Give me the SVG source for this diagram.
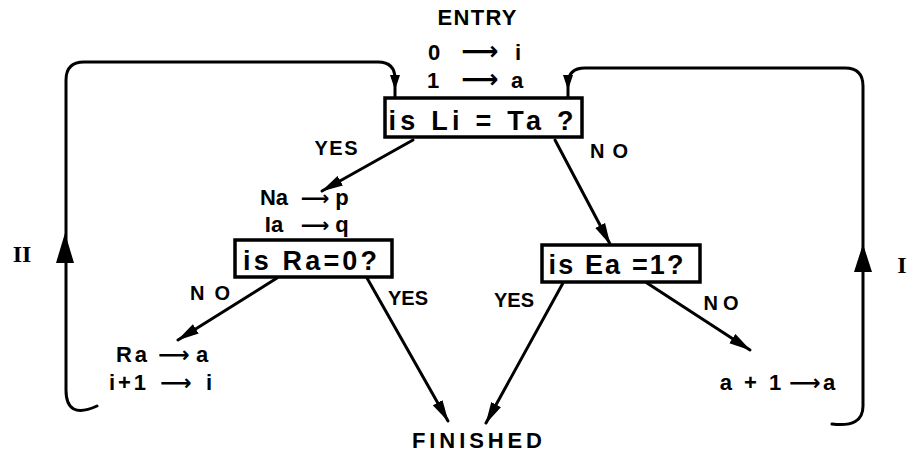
<svg xmlns="http://www.w3.org/2000/svg" width="909" height="456" viewBox="0 0 909 456">
<style>
  .t { font-family: "Liberation Sans", Arial, sans-serif; font-weight: bold; fill: #000; text-anchor: middle; }
  .lbl { font-size: 20px; }
  .ex { font-size: 22px; }
  .bx { font-size: 27px; }
  .ar { font-family: "DejaVu Sans", sans-serif; font-weight: bold; font-size: 26px; }
  .ar2 { font-family: "DejaVu Sans", sans-serif; font-weight: bold; font-size: 20px; }
  .ar3 { font-family: "DejaVu Sans", sans-serif; font-weight: bold; font-size: 22px; }
  .rn { font-family: "Liberation Serif", "Times New Roman", serif; font-weight: bold; font-size: 24px; fill: #000; text-anchor: middle; }
  .box { fill: #fff; stroke: #000; stroke-width: 3.5; }
  .ln { fill: none; stroke: #000; stroke-width: 3; stroke-linecap: round; stroke-linejoin: round; }
  .hd { fill: #000; stroke: none; }
</style>
<defs>
  <marker id="ah" markerUnits="userSpaceOnUse" markerWidth="22" markerHeight="12" refX="21" refY="6" orient="auto">
    <path d="M0,0.5 L22,6 L0,11.5 Z" fill="#000"/>
  </marker>
</defs>
<rect width="909" height="456" fill="#fff"/>

<g id="connectors">
  <!-- left loop II -->
  <path class="ln" d="M 97 406 Q 66 420 66 390 L 66 80 Q 66 62 84 62 L 378 62 Q 395 62 395 79 L 395 98"/>
  <path class="hd" d="M 65 233 L 74 263 L 56 263 Z"/>
  <path class="hd" d="M 395 90 L 400 75 L 390 75 Z"/>
  <!-- right loop I -->
  <path class="ln" d="M 568 98 L 568 84 Q 568 68 585 68 L 845 68 Q 863 68 863 86 L 863 406 Q 863 428 832 424"/>
  <path class="hd" d="M 863 244 L 872 272 L 854 272 Z"/>
  <path class="hd" d="M 568 90 L 573 75 L 563 75 Z"/>
  <!-- box1 YES -->
  <line class="ln" x1="413" y1="140" x2="322" y2="191" marker-end="url(#ah)"/>
  <!-- box1 NO -->
  <line class="ln" x1="555" y1="140" x2="610" y2="244" marker-end="url(#ah)"/>
  <!-- box2 NO -->
  <line class="ln" x1="277" y1="278" x2="178" y2="340" marker-end="url(#ah)"/>
  <!-- box2 YES -->
  <line class="ln" x1="367" y1="278" x2="448" y2="421" marker-end="url(#ah)"/>
  <!-- box3 YES -->
  <line class="ln" x1="563" y1="283" x2="486" y2="423" marker-end="url(#ah)"/>
  <!-- box3 NO -->
  <line class="ln" x1="647" y1="283" x2="750" y2="350" marker-end="url(#ah)"/>
</g>

<g id="entry">
  <text class="t ex" x="477" y="25" textLength="79" lengthAdjust="spacing">ENTRY</text>
  <text class="t ex" y="60"><tspan x="434">0</tspan><tspan class="ar" x="480">⟶</tspan><tspan x="518">i</tspan></text>
  <text class="t ex" y="88"><tspan x="433">1</tspan><tspan class="ar" x="480">⟶</tspan><tspan x="517">a</tspan></text>
</g>

<g id="box1">
  <rect class="box" x="385" y="98" width="197" height="39"/>
  <text class="t bx" x="481" y="130" textLength="185" lengthAdjust="spacing">is Li = Ta ?</text>
  <text class="t lbl" x="336" y="155" textLength="43" lengthAdjust="spacing">YES</text>
  <text class="t lbl" x="609" y="158" textLength="38" lengthAdjust="spacing">NO</text>
</g>

<g id="assign1">
  <text class="t ex" y="205"><tspan x="274">Na</tspan><tspan class="ar2" x="315">⟶</tspan><tspan x="342">p</tspan></text>
  <text class="t ex" y="232"><tspan x="274">Ia</tspan><tspan class="ar2" x="315">⟶</tspan><tspan x="342">q</tspan></text>
</g>

<g id="box2">
  <rect class="box" x="235" y="240" width="157" height="37"/>
  <text class="t bx" x="310" y="270" textLength="134" lengthAdjust="spacing">is Ra=0?</text>
  <text class="t lbl" x="210" y="300" textLength="40" lengthAdjust="spacing">NO</text>
  <text class="t lbl" x="408" y="305" textLength="40" lengthAdjust="spacing">YES</text>
</g>

<g id="box3">
  <rect class="box" x="542" y="245" width="158" height="37"/>
  <text class="t bx" x="616" y="274" textLength="135" lengthAdjust="spacing">is Ea =1?</text>
  <text class="t lbl" x="514" y="307" textLength="40" lengthAdjust="spacing">YES</text>
  <text class="t lbl" x="721" y="310" textLength="35" lengthAdjust="spacing">NO</text>
</g>

<g id="assign2">
  <text class="t ex" y="362"><tspan x="133" letter-spacing="3">Ra</tspan><tspan class="ar3" x="174">⟶</tspan><tspan x="202">a</tspan></text>
  <text class="t ex" y="390"><tspan x="129" letter-spacing="3">i+1</tspan><tspan class="ar3" x="176">⟶</tspan><tspan x="209">i</tspan></text>
</g>

<g id="assign3">
  <text class="t ex" y="390"><tspan x="752" letter-spacing="3">a + 1</tspan><tspan class="ar3" x="805">⟶</tspan><tspan x="829">a</tspan></text>
</g>

<g id="finished">
  <text class="t ex" x="477" y="448" textLength="130" lengthAdjust="spacing">FINISHED</text>
</g>

<g id="labels">
  <text class="rn" x="22" y="262">II</text>
  <text class="rn" x="902" y="273">I</text>
</g>
</svg>
